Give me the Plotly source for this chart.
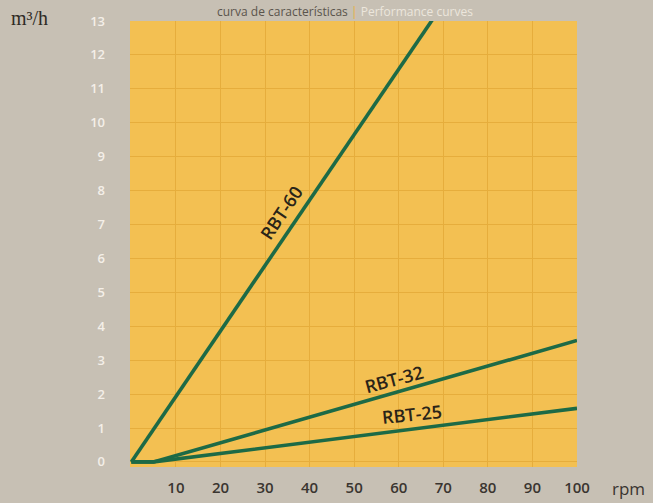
import plotly.graph_objects as go

rpm = [0, 5, 100]
rbt60_rpm = [0, 100]
rbt60 = [0, 19.3]
rbt32 = [0, 0.0, 3.58]
rbt25 = [0, 0.0, 1.58]

x_ticks = [10, 20, 30, 40, 50, 60, 70, 80, 90, 100]
y_ticks = list(range(0, 14))

BG = "#c7c0b4"
YELLOW = "#f3c052"
GRID = "#e6ad3c"
GREEN = "#1d6a46"

fig = go.Figure()
for xs, ys in [(rbt60_rpm, rbt60), (rpm, rbt32), (rpm, rbt25)]:
    fig.add_trace(go.Scatter(x=xs, y=ys, mode="lines",
                             line=dict(color=GREEN, width=3.6),
                             showlegend=False, hoverinfo="skip"))

label_font = dict(family="Open Sans", size=18, color="#2a2418", weight=600)
fig.add_annotation(x=33.5, y=7.35, text="RBT-60", textangle=-56,
                   showarrow=False, font=label_font)
fig.add_annotation(x=59, y=2.45, text="RBT-32", textangle=-15,
                   showarrow=False, font=label_font)
fig.add_annotation(x=63, y=1.4, text="RBT-25", textangle=-6,
                   showarrow=False, font=label_font)

fig.add_annotation(xref="paper", yref="paper", x=-0.224, y=1.0, yshift=3,
                   text="m³/h", showarrow=False, xanchor="center", yanchor="middle",
                   font=dict(family="Liberation Serif", size=20, color="#2e2a24"))
fig.add_annotation(xref="paper", yref="paper", x=1.0, y=0, yshift=-21, xshift=33,
                   text="rpm", showarrow=False, xanchor="left", yanchor="middle",
                   font=dict(family="Open Sans", size=17, color="#3a3530"))
fig.add_annotation(xref="paper", yref="paper", x=0.48, y=1.0, yshift=20,
                   text="curva de características <span style='color:#e8b030'>|</span> "
                        "<span style='color:#ece6dc'>Performance curves</span>",
                   showarrow=False, xanchor="center", yanchor="top",
                   font=dict(family="Open Sans", size=12, color="#5a544c"))

fig.update_layout(
    width=653, height=503,
    paper_bgcolor=BG, plot_bgcolor=YELLOW,
    margin=dict(l=130, r=76, t=21, b=36, autoexpand=False),
    xaxis=dict(range=[-0.3, 100], tickvals=x_ticks, showgrid=True,
               gridcolor=GRID, gridwidth=1, zeroline=False, automargin=False,
               ticks="", showline=False, ticklabelstandoff=10,
               tickfont=dict(family="Open Sans", size=15, color="#3a3530", weight=600)),
    yaxis=dict(range=[-0.15, 13.0], tickvals=y_ticks, showgrid=True,
               gridcolor=GRID, gridwidth=1, zeroline=False, automargin=False,
               ticks="", showline=False, ticklabelstandoff=24,
               tickfont=dict(family="Open Sans", size=13, color="#f4efe8", weight=600)),
)

fig.write_html("out.html", config={"displayModeBar": False}, post_script=(
    "document.body.style.margin='0';document.body.style.overflow='hidden';"
    "document.body.style.background='" + BG + "';"))
